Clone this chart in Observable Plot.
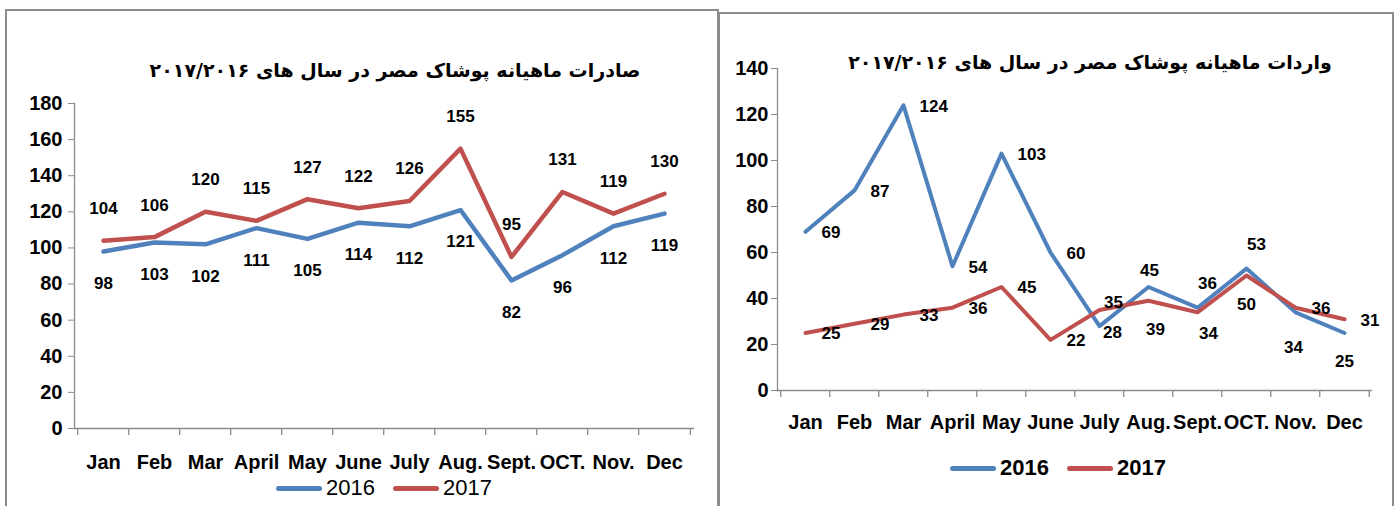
<!DOCTYPE html>
<html>
<head>
<meta charset="utf-8">
<script src="https://cdn.jsdelivr.net/npm/d3@7"></script>
<script src="https://cdn.jsdelivr.net/npm/@observablehq/plot@0.6"></script>
<style>
  body { margin: 0; background: #fff; }
  #root { position: relative; width: 1398px; height: 506px; overflow: hidden; background: #fff;
          font-family: "Liberation Sans Narrow", "Liberation Sans", sans-serif; color: #000; }
  .panel { position: absolute; border: 2px solid #8c8c8c; box-sizing: border-box; }
  #pL { left: 5px; top: 9px; width: 714px; height: 540px; }
  #pR { left: 718px; top: 12px; width: 676px; height: 540px; }
  .title { position: absolute; direction: rtl; font-family: "DejaVu Sans", sans-serif; font-weight: bold;
           font-size: 19px; white-space: nowrap; transform: translate(-50%, -50%); }
  .chart { position: absolute; }
  .legend { position: absolute; display: flex; align-items: center; transform: translate(-50%, -50%);
            white-space: nowrap; font-size: 22px; }
  .legend .item { display: flex; align-items: center; margin-right: 18px; }
  .legend .item:last-child { margin-right: 0; }
  .legend .sw { display: inline-block; width: 46px; height: 5px; border-radius: 2.5px; margin-right: 4px; }
</style>
</head>
<body>
<div id="root">
  <div class="panel" id="pL"></div>
  <div class="panel" id="pR"></div>
</div>
<script>
// ---------- data ----------
const months = ["Jan", "Feb", "Mar", "April", "May", "June", "July", "Aug.", "Sept.", "OCT.", "Nov.", "Dec"];
const seriesNames = ["2016", "2017"];
const exports2016 = [98, 103, 102, 111, 105, 114, 112, 121, 82, 96, 112, 119];
const exports2017 = [104, 106, 120, 115, 127, 122, 126, 155, 95, 131, 119, 130];
const imports2016 = [69, 87, 124, 54, 103, 60, 28, 45, 36, 53, 34, 25];
const imports2017 = [25, 29, 33, 36, 45, 22, 35, 39, 34, 50, 36, 31];
const exportTicks = [0, 20, 40, 60, 80, 100, 120, 140, 160, 180];
const importTicks = [0, 20, 40, 60, 80, 100, 120, 140];
const exportTitle = "صادرات ماهیانه پوشاک مصر در سال های ۲۰۱۷/۲۰۱۶";
const importTitle = "واردات ماهیانه پوشاک مصر در سال های ۲۰۱۷/۲۰۱۶";

// label placement codes (layout only)
const exportPos2016 = Array(12).fill("below");
const exportPos2017 = Array(12).fill("above");
const importPos2016 = ["r", "r", "r", "r", "r", "r", "rb", "t", "tr", "tr", "b2", "b"];
const importPos2017 = ["r", "r", "r", "r", "r", "r", "rt", "br", "br2", "b", "r", "r"];

// ---------- styles ----------
const FONT = '"Liberation Sans Narrow", "Liberation Sans", sans-serif';
const colors = ["#4F81BD", "#C0504D"];
const axisGray = "#8c8c8c";
const placements = {
  below: {dx: 0, dy: 32, textAnchor: "middle"},
  above: {dx: 0, dy: -32, textAnchor: "middle"},
  r:   {dx: 16, dy: 1, textAnchor: "start"},
  rb:  {dx: 13, dy: 6, textAnchor: "middle"},
  rt:  {dx: 14, dy: -7, textAnchor: "middle"},
  t:   {dx: 1, dy: -16, textAnchor: "middle"},
  tr:  {dx: 10, dy: -24, textAnchor: "middle"},
  b:   {dx: 0, dy: 29, textAnchor: "middle"},
  b2:  {dx: -2, dy: 35, textAnchor: "middle"},
  br:  {dx: 7, dy: 29, textAnchor: "middle"},
  br2: {dx: 11, dy: 21, textAnchor: "middle"}
};

function rowsOf(v16, v17, p16, p17) {
  return [
    ...months.map((m, i) => ({month: m, value: v16[i], series: seriesNames[0], pos: p16[i]})),
    ...months.map((m, i) => ({month: m, value: v17[i], series: seriesNames[1], pos: p17[i]}))
  ];
}

function chart({width, height, ml, mr, mt, mb, ticks, rows, lw, tickPad, monthPad, tickFont, labelFont, monthFont}) {
  const step = (width - ml - mr) / months.length;
  const textMarks = Object.keys(placements).map(code => {
    const p = placements[code];
    return Plot.text(rows.filter(d => d.pos === code), {
      x: "month", y: "value", text: d => String(d.value),
      dx: p.dx, dy: p.dy, textAnchor: p.textAnchor,
      fontSize: labelFont, fontWeight: "bold", fill: "#000"
    });
  });
  return Plot.plot({
    width, height,
    marginLeft: ml, marginRight: mr, marginTop: mt, marginBottom: mb,
    style: {fontFamily: FONT, background: "transparent", color: "#000", overflow: "visible"},
    x: {type: "point", domain: months, padding: 0.5},
    y: {domain: [ticks[0], ticks[ticks.length - 1]]},
    color: {domain: seriesNames, range: colors},
    marks: [
      Plot.frame({anchor: "left", stroke: axisGray, strokeWidth: 1.3}),
      Plot.frame({anchor: "bottom", stroke: axisGray, strokeWidth: 1.3}),
      Plot.ruleX(months, {x: d => d, dx: -step / 2, y1: ticks[0], y2: ticks[0], insetBottom: -7, stroke: axisGray, strokeWidth: 1.3}),
      Plot.ruleX(months.slice(-1), {x: d => d, dx: step / 2, y1: ticks[0], y2: ticks[0], insetBottom: -7, stroke: axisGray, strokeWidth: 1.3}),
      Plot.axisY({ticks, tickSize: 6, tickPadding: tickPad, stroke: axisGray, fill: "#000",
                  fontSize: tickFont, fontWeight: "bold", label: null, tickFormat: d => String(d)}),
      Plot.axisX({tickSize: 0, tickPadding: monthPad, fill: "#000", fontSize: monthFont,
                  fontWeight: "bold", label: null}),
      Plot.line(rows, {x: "month", y: "value", z: "series", stroke: "series", strokeWidth: lw,
                       strokeLinejoin: "round", strokeLinecap: "round"}),
      ...textMarks
    ]
  });
}

const root = document.getElementById("root");

function place(el, left, top) {
  el.classList.add("chart");
  el.style.left = left + "px";
  el.style.top = top + "px";
  root.appendChild(el);
}

function addTitle(text, cx, cy) {
  const t = document.createElement("div");
  t.className = "title";
  t.textContent = text;
  t.style.left = cx + "px";
  t.style.top = cy + "px";
  root.appendChild(t);
}

function addLegend(cx, cy, bold) {
  const lg = document.createElement("div");
  lg.className = "legend";
  lg.style.left = cx + "px";
  lg.style.top = cy + "px";
  lg.style.fontWeight = bold ? "bold" : "normal";
  seriesNames.forEach((s, i) => {
    const it = document.createElement("span");
    it.className = "item";
    const sw = document.createElement("span");
    sw.className = "sw";
    sw.style.background = colors[i];
    it.appendChild(sw);
    it.appendChild(document.createTextNode(s));
    lg.appendChild(it);
  });
  root.appendChild(lg);
}

// left: exports
const left = chart({
  width: 710, height: 400, ml: 74, mr: 17, mt: 13, mb: 62,
  ticks: exportTicks,
  rows: rowsOf(exports2016, exports2017, exportPos2016, exportPos2017),
  lw: 4.5, tickPad: 6, monthPad: 26, tickFont: 20, labelFont: 17, monthFont: 20
});
place(left, 0, 90);

// right: imports
const right = chart({
  width: 680, height: 400, ml: 60, mr: 26, mt: 18, mb: 60,
  ticks: importTicks,
  rows: rowsOf(imports2016, imports2017, importPos2016, importPos2017),
  lw: 4, tickPad: 3, monthPad: 24, tickFont: 20, labelFont: 17, monthFont: 20
});
place(right, 717, 50);

addTitle(exportTitle, 395, 70);
addTitle(importTitle, 1090, 62);
addLegend(384, 488, false);
addLegend(1058, 468, true);
</script>
</body>
</html>
